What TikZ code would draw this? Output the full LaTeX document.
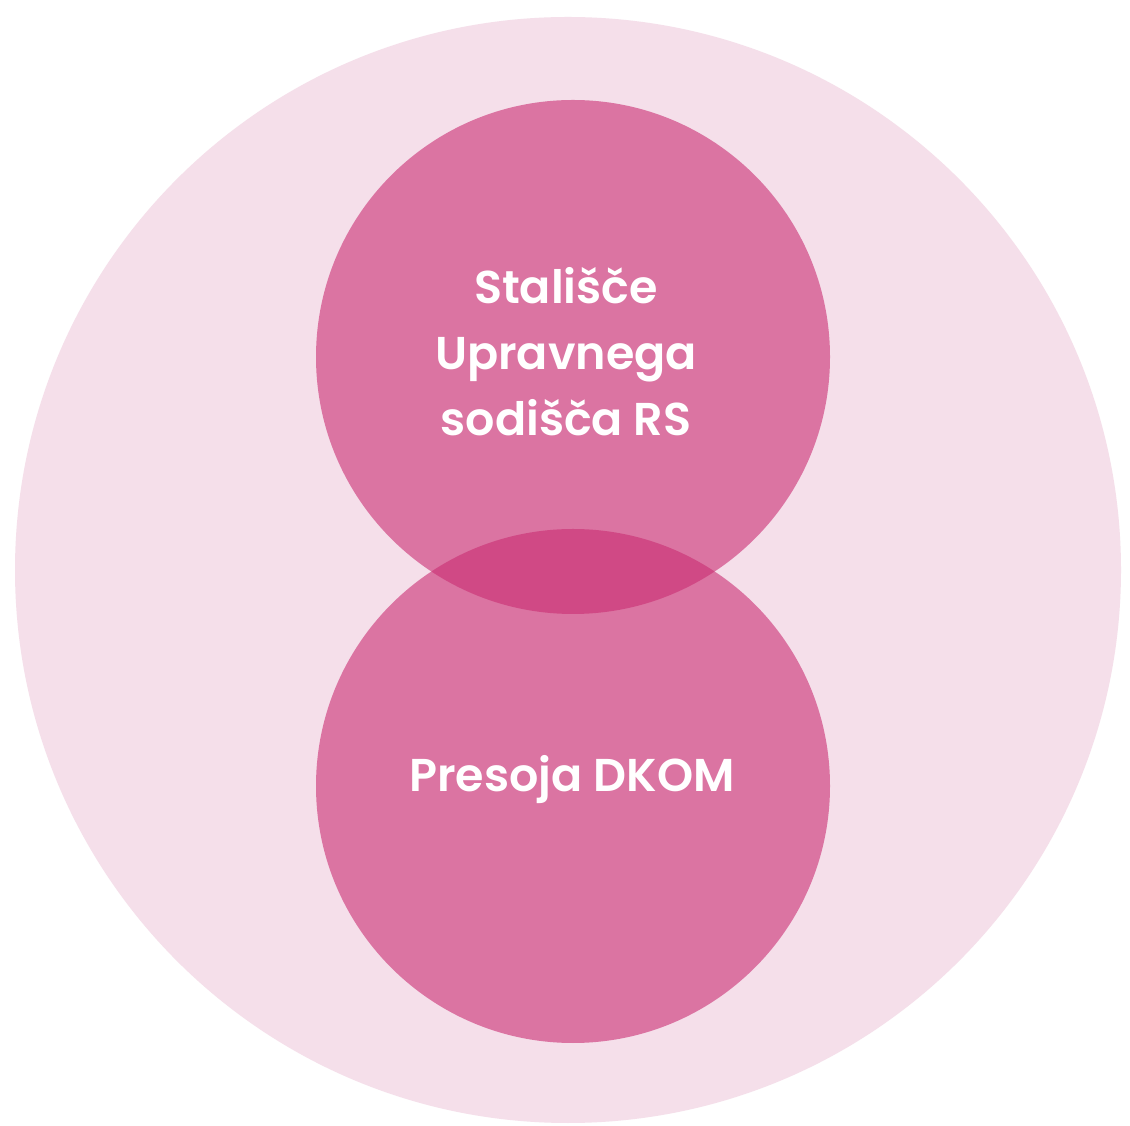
\documentclass[tikz,border=0pt]{standalone}
\usepackage{fontspec}
\setmainfont{Poppins}[BoldFont=* SemiBold]
\usepackage{tikz}
\usetikzlibrary{positioning}

\definecolor{paleRose}{HTML}{F5DFEA}
\definecolor{deepRose}{HTML}{CA2D72}

\begin{document}
\begin{tikzpicture}[x=1pt, y=1pt,
        ring/.style={circle, fill=deepRose, fill opacity=0.6, draw=none, inner sep=0pt, minimum size=514pt},
        label/.style={text=white, align=center, font=\bfseries\fontsize{46}{66}\selectfont}]
    \useasboundingbox (0,0) rectangle (1130,1125);
    \fill[white] (0,0) rectangle (1130,1125);
    % outer area
    \node[circle, fill=paleRose, inner sep=0pt, minimum size=1106pt] (outer) at (568,555) {};
    % two overlapping circles
    \node[ring] (upper) at (573,768) {};
    \node[ring] (lower) at (573,339) {};
    % labels
    \node[label] (stalisce) at (566,773) {Stališče\\Upravnega\\sodišča RS};
    \node[label] (presoja) at (572,345) {Presoja DKOM};
\end{tikzpicture}
\end{document}
